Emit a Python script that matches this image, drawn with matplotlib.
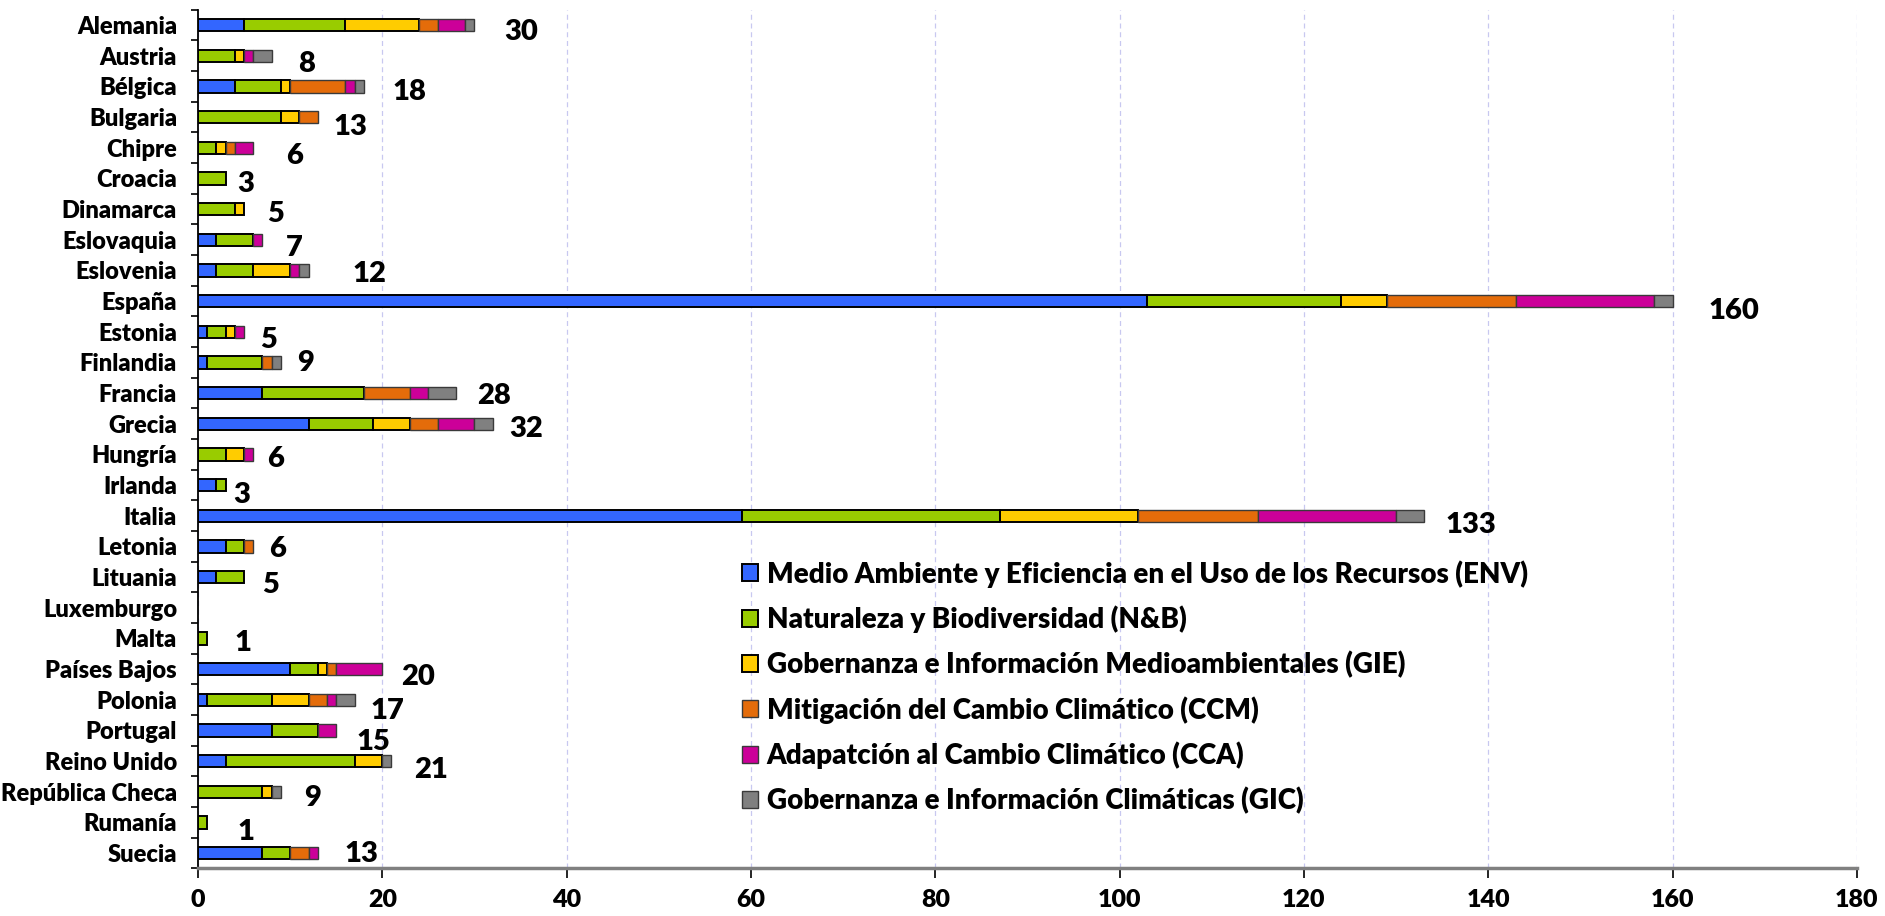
import numpy as np
import matplotlib
matplotlib.use('Agg')
from matplotlib import pyplot as plt

plt.rcParams['font.family'] = ['Lato', 'DejaVu Sans']
plt.rcParams['font.weight'] = 'heavy'

# datos por país (número de proyectos por subprograma)
countries = ['Alemania', 'Austria', 'Bélgica', 'Bulgaria', 'Chipre', 'Croacia', 'Dinamarca',
             'Eslovaquia', 'Eslovenia', 'España', 'Estonia', 'Finlandia', 'Francia', 'Grecia',
             'Hungría', 'Irlanda', 'Italia', 'Letonia', 'Lituania', 'Luxemburgo', 'Malta',
             'Países Bajos', 'Polonia', 'Portugal', 'Reino Unido', 'República Checa', 'Rumanía', 'Suecia']
env = [5, 0, 4, 0, 0, 0, 0, 2, 2, 103, 1, 1, 7, 12, 0, 2, 59, 3, 2, 0, 0, 10, 1, 8, 3, 0, 0, 7]
nb  = [11, 4, 5, 9, 2, 3, 4, 4, 4, 21, 2, 6, 11, 7, 3, 1, 28, 2, 3, 0, 1, 3, 7, 5, 14, 7, 1, 3]
gie = [8, 1, 1, 2, 1, 0, 1, 0, 4, 5, 1, 0, 0, 4, 2, 0, 15, 0, 0, 0, 0, 1, 4, 0, 3, 1, 0, 0]
ccm = [2, 0, 6, 2, 1, 0, 0, 0, 0, 14, 0, 1, 5, 3, 0, 0, 13, 1, 0, 0, 0, 1, 2, 0, 0, 0, 0, 2]
cca = [3, 1, 1, 0, 2, 0, 0, 1, 1, 15, 1, 0, 2, 4, 1, 0, 15, 0, 0, 0, 0, 5, 1, 2, 0, 0, 0, 1]
gic = [1, 2, 1, 0, 0, 0, 0, 0, 1, 2, 0, 1, 3, 2, 0, 0, 3, 0, 0, 0, 0, 0, 2, 0, 1, 1, 0, 0]

series_names = ['Medio Ambiente y Eficiencia en el Uso de los Recursos (ENV)',
                'Naturaleza y Biodiversidad (N&B)',
                'Gobernanza e Información Medioambientales (GIE)',
                'Mitigación del Cambio Climático (CCM)',
                'Adapatción al Cambio Climático (CCA)',
                'Gobernanza e Información Climáticas (GIC)']

colors = ['#3366FF', '#99CC00', '#FFCC00', '#E46C0A', '#CC0099', '#808080']
edges = ['black', 'black', 'black', '#3a3a3a', '#3a3a3a', '#3a3a3a']
edge_w = [1.4, 1.4, 1.4, 1.0, 1.0, 1.0]

# desplazamiento de las etiquetas de total (px), colocadas a mano en el original
label_dx = [30, 26, 29, 16, 33, 12, 23, 23, 44, 36, 16, 16, 21, 16, 14, 8, 22, 16, 18, 0, 27, 19, 16, 20, 23, 23, 30, 27]
label_dy = [7, 8, 6, 10, 8, 6, 5, 8, 4, 10, 8, 1, 3, 5, 5, 10, 9, 3, 8, 0, 5, 8, 11, 12, 9, 6, 10, 1]

fig = plt.figure(figsize=(18.85, 9.16), dpi=100)
ax = fig.add_axes([0.105, 0.052, 0.8801, 0.9374])

y = np.arange(len(countries))
left = np.zeros(len(countries))
for vals, name, c, ec, lw in zip([env, nb, gie, ccm, cca, gic], series_names, colors, edges, edge_w):
    v = np.array(vals, dtype=float)
    m = v > 0
    ax.barh(y[m], v[m], left=left[m], height=0.4, color=c, edgecolor=ec, linewidth=lw,
            label=name, zorder=3)
    left += v

totals = left
for i, t in enumerate(totals):
    if t > 0:
        ax.annotate(str(int(t)), xy=(t, i), xytext=(label_dx[i] * 0.72, -label_dy[i] * 0.72),
                    textcoords='offset points', ha='left', va='center',
                    fontsize=21, fontweight='heavy', color='black')

ax.set_xlim(0, 180)
ax.set_ylim(27.5, -0.5)
ax.set_xticks(np.arange(0, 181, 20))
ax.set_yticks(y)
ax.set_yticklabels(countries)
ax.set_yticks(np.arange(-0.5, 28, 1), minor=True)
ax.tick_params(axis='y', which='major', length=0, pad=15, labelsize=17)
ax.tick_params(axis='y', which='minor', length=5, width=1.2, direction='out', color='black')
ax.tick_params(axis='x', length=7, width=1.2, direction='out', pad=8, labelsize=18, color='black')
for lab in ax.get_xticklabels() + ax.get_yticklabels():
    lab.set_fontweight('heavy')

ax.grid(axis='x', color='#C8C8F0', linestyle=(0, (4, 3)), linewidth=0.9, zorder=0)
ax.set_axisbelow(True)
ax.spines['top'].set_visible(False)
ax.spines['right'].set_visible(False)
ax.spines['left'].set_color('black')
ax.spines['left'].set_linewidth(1.3)
ax.spines['bottom'].set_color('#808080')
ax.spines['bottom'].set_linewidth(2.5)

ax.legend(loc='upper left', bbox_to_anchor=(742 / 1885, 1 - 560 / 916), bbox_transform=fig.transFigure,
          frameon=False, prop={'weight': 'heavy', 'size': 20},
          handlelength=0.56, handleheight=0.56, handletextpad=0.33, labelspacing=0.64,
          borderpad=0, borderaxespad=0)

plt.savefig('out.png', dpi=100)
